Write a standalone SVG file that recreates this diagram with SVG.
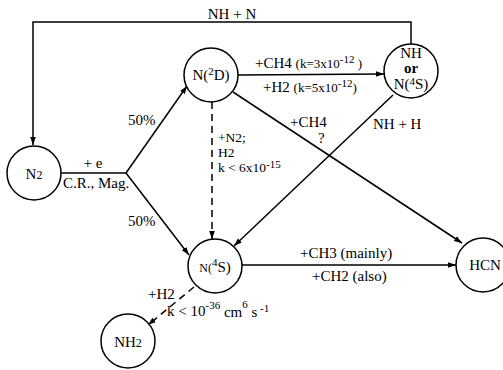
<svg xmlns="http://www.w3.org/2000/svg" width="503" height="370" viewBox="0 0 503 370">
<style>
text{font-family:"Liberation Serif","DejaVu Serif",serif;fill:#000;font-size:15px}
.n{fill:#fff;stroke:#000;stroke-width:1.5}
.c{fill:none;stroke:#000;stroke-width:1.5}
.d{stroke-dasharray:7,5}
.s{font-size:11px}
.p{font-size:13px}
.m{text-anchor:middle}
.k{font-size:13.5px}
</style>
<defs>
<marker id="a" viewBox="0 0 10 10" refX="10" refY="5" markerWidth="8" markerHeight="8" markerUnits="userSpaceOnUse" orient="auto">
<path d="M0,1.5 L10,5 L0,8.5 z" fill="#000"/>
</marker>
</defs>
<rect width="503" height="370" fill="#fff"/>
<g id="connectors">
<polyline class="c" points="411,44 411,22 33,22 33,145" marker-end="url(#a)"/>
<line class="c" x1="61" y1="173" x2="126" y2="173"/>
<line class="c" x1="126" y1="173" x2="187" y2="86" marker-end="url(#a)"/>
<line class="c" x1="126" y1="173" x2="189" y2="255" marker-end="url(#a)"/>
<line class="c" x1="238" y1="75" x2="384" y2="74" marker-end="url(#a)"/>
<line class="c d" x1="212" y1="102" x2="212" y2="239" marker-end="url(#a)"/>
<line class="c" x1="233" y1="92" x2="462" y2="243" marker-end="url(#a)"/>
<line class="c" x1="393" y1="95" x2="234" y2="246" marker-end="url(#a)"/>
<line class="c" x1="242" y1="265" x2="456" y2="265" marker-end="url(#a)"/>
<line class="c d" x1="194" y1="287" x2="148" y2="325" marker-end="url(#a)"/>
<text x="232" y="19" class="m">NH + N</text>
<text x="93" y="168" class="m">+ e</text>
<text x="63" y="188">C.R., Mag.</text>
<text x="128" y="125">50%</text>
<text x="128" y="226">50%</text>
<text x="218" y="142" class="k">+N2;</text>
<text x="218" y="157" class="k">H2</text>
<text x="218" y="172" class="k">k &lt; 6x10<tspan class="s" dy="-4">-15</tspan></text>
<text x="255" y="68">+CH4 <tspan class="p">(k=3x10</tspan><tspan class="s" dy="-5">-12</tspan><tspan class="p" dy="5"> )</tspan></text>
<text x="263" y="92">+H2 <tspan class="p">(k=5x10</tspan><tspan class="s" dy="-5">-12</tspan><tspan class="p" dy="5">)</tspan></text>
<text x="290" y="127">+CH4</text>
<text x="318" y="143">?</text>
<text x="373" y="129">NH + H</text>
<text x="300" y="258">+CH3 (mainly)</text>
<text x="312" y="281">+CH2 (also)</text>
<text x="148" y="299">+H2</text>
<text x="167" y="316">k &lt; 10<tspan class="s" dy="-7">-36</tspan><tspan dy="8"> cm</tspan><tspan class="s" dy="-9">6</tspan><tspan dy="9"> s</tspan><tspan class="s" dy="-5"> -1</tspan></text>
</g>
<g id="N2">
<circle class="n" cx="34" cy="173" r="27"/>
<text x="34" y="179" class="m" font-size="16">N<tspan font-size="12">2</tspan></text>
</g>
<g id="N2D">
<circle class="n" cx="211" cy="75" r="27"/>
<text x="211" y="80" class="m">N(<tspan class="s" dy="-5">2</tspan><tspan dy="5">D)</tspan></text>
</g>
<g id="NH">
<circle class="n" cx="411" cy="71" r="27"/>
<text x="411" y="58" class="m" font-size="15">NH</text>
<text x="411" y="72.5" class="m" font-size="10" font-weight="bold">or</text>
<text x="411" y="89" class="m" font-size="14">N(<tspan class="s" dy="-4">4</tspan><tspan dy="4">S)</tspan></text>
</g>
<g id="N4S">
<circle class="n" cx="215" cy="266" r="27"/>
<text x="215" y="272" class="m" font-size="14"><tspan font-size="12">N(</tspan><tspan class="s" dy="-6">4</tspan><tspan dy="6">S)</tspan></text>
</g>
<g id="HCN">
<circle class="n" cx="483" cy="265" r="27"/>
<text x="485" y="270" class="m">HCN</text>
</g>
<g id="NH2">
<circle class="n" cx="128" cy="341" r="27"/>
<text x="128" y="347" class="m" font-size="16">NH<tspan font-size="12">2</tspan></text>
</g>
</svg>
